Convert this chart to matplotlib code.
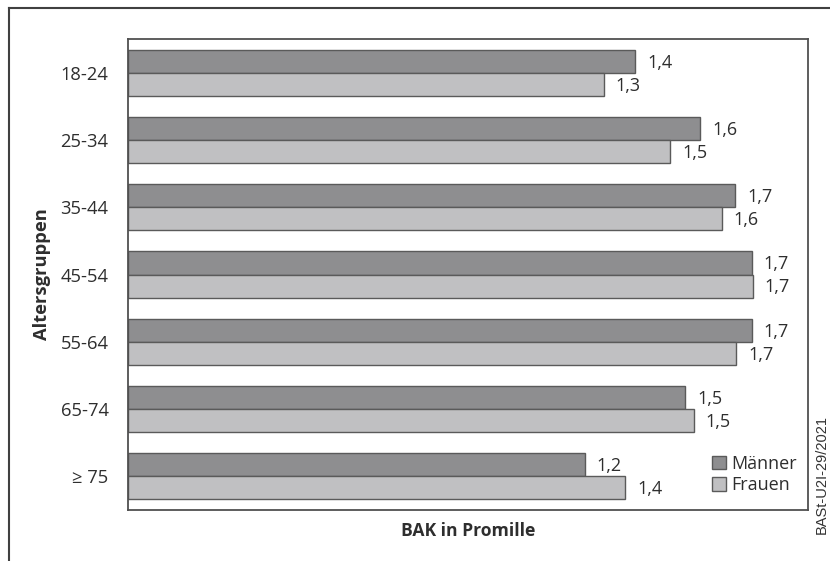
import matplotlib
matplotlib.use("Agg")
import matplotlib.pyplot as plt
from matplotlib.lines import Line2D
import numpy as np

plt.rcParams['font.family'] = ['Open Sans', 'DejaVu Sans']

categories = ["18-24", "25-34", "35-44", "45-54", "55-64", "65-74", "\u2265 75"]
maenner = [1.383, 1.561, 1.656, 1.701, 1.701, 1.520, 1.245]
frauen = [1.297, 1.479, 1.620, 1.704, 1.659, 1.543, 1.356]
series_names = ["M\u00e4nner", "Frauen"]

col_m = "#8e8e90"
col_f = "#c0c0c2"
edge = "#5a5a5a"
txt = "#2e2e2e"

fig = plt.figure(figsize=(8.3, 5.61), dpi=100)
fig.patch.set_facecolor("white")
ax = fig.add_axes([128/830, 1-510/561, (807.5-128)/830, (510-39)/561])

y = np.arange(len(categories))
h = 0.342
bm = ax.barh(y - h/2, maenner, height=h, color=col_m, edgecolor=edge, linewidth=1.0, label=series_names[0])
bf = ax.barh(y + h/2, frauen, height=h, color=col_f, edgecolor=edge, linewidth=1.0, label=series_names[1])

for bars, vals in ((bm, maenner), (bf, frauen)):
    for b, v in zip(bars, vals):
        ax.annotate(f"{v:.1f}".replace(".", ","),
                    xy=(b.get_width(), b.get_y() + b.get_height()/2),
                    xytext=(8.5, -1), textcoords="offset points",
                    ha="left", va="center", fontsize=13, color=txt)

ax.set_xlim(0, 1.853)
ax.set_ylim(len(categories) - 0.5, -0.5)
ax.set_yticks(y)
ax.set_yticklabels(categories, fontsize=13.2, color=txt)
ax.set_xticks([])
ax.tick_params(axis="y", length=0, pad=14)
for s in ax.spines.values():
    s.set_color("#505050")
    s.set_linewidth(1.3)

ax.set_ylabel("Altersgruppen", fontsize=13.2, fontweight="bold", color=txt, labelpad=7)
ax.set_xlabel("BAK in Promille", fontsize=12.6, fontweight="bold", color=txt, labelpad=9)

leg = ax.legend(loc="lower right", bbox_to_anchor=(0.995, 0.018), frameon=False,
                fontsize=13, handlelength=0.75, handleheight=0.75,
                handletextpad=0.3, labelspacing=0.2, borderaxespad=0.0)
for t in leg.get_texts():
    t.set_color(txt)

# outer frame (top and left edges)
fig.add_artist(Line2D([9/830, 1.0], [1-8/561, 1-8/561], transform=fig.transFigure,
                      color="#404040", linewidth=1.5))
fig.add_artist(Line2D([9/830, 9/830], [0.0, 1-8/561], transform=fig.transFigure,
                      color="#404040", linewidth=1.5))

fig.text(822/830, 1-474/561, "BASt-U2I-29/2021", rotation=90, ha="center", va="center",
         fontsize=10.5, color="#333333", family=["Liberation Sans", "DejaVu Sans"])

fig.savefig("out.png", dpi=100, facecolor="white")
